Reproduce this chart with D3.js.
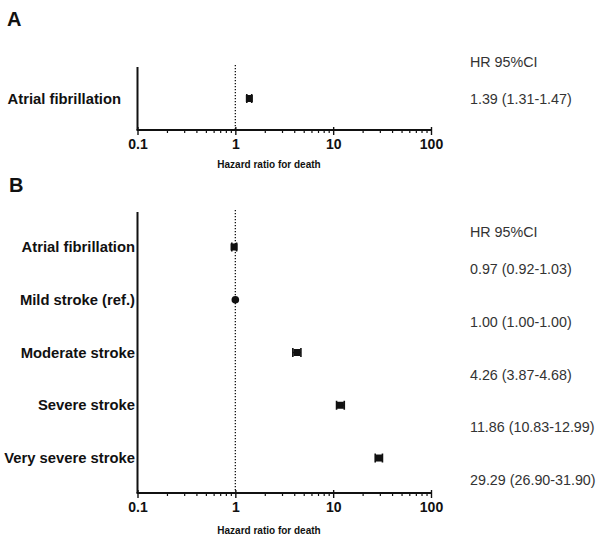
<!DOCTYPE html>
<html><head><meta charset="utf-8">
<script src="https://cdn.jsdelivr.net/npm/d3@7"></script>
<style>body{margin:0;background:#fff}svg{display:block}</style>
</head><body>
<script>
// Data
const panelACategories = ["Atrial fibrillation"];
const panelAHR = [1.39];
const panelALow = [1.31];
const panelAHigh = [1.47];
const panelALabels = ["1.39 (1.31-1.47)"];

const panelBCategories = ["Atrial fibrillation", "Mild stroke (ref.)", "Moderate stroke", "Severe stroke", "Very severe stroke"];
const panelBHR = [0.97, 1.00, 4.26, 11.86, 29.29];
const panelBLow = [0.92, 1.00, 3.87, 10.83, 26.90];
const panelBHigh = [1.03, 1.00, 4.68, 12.99, 31.90];
const panelBLabels = ["0.97 (0.92-1.03)", "1.00 (1.00-1.00)", "4.26 (3.87-4.68)", "11.86 (10.83-12.99)", "29.29 (26.90-31.90)"];
const markerShapes = ["square", "circle", "square", "square", "square"];

const xTicks = [0.1, 1, 10, 100];
const header = "HR 95%CI";
const xTitle = "Hazard ratio for death";

const W = 602, H = 540;
const svg = d3.select("body").append("svg").attr("width", W).attr("height", H);
const font = "'Liberation Sans', Arial, sans-serif";

const x = d3.scaleLog().domain([0.1, 100]).range([137.5, 431]);

function panel(opts) {
  const g = svg.append("g");
  const y = d3.scalePoint().domain(opts.cats).range([opts.top, opts.bottom]).padding(opts.pad);
  g.append("text").attr("x", opts.letterX).attr("y", opts.letterY).text(opts.letter)
    .attr("font-family", font).attr("font-weight", "bold").attr("font-size", 20).attr("fill", "#111");
  g.append("line").attr("x1", x(1)).attr("x2", x(1)).attr("y1", opts.top - 2).attr("y2", opts.bottom)
    .attr("stroke", "#111").attr("stroke-width", 1.3).attr("stroke-dasharray", "1.3,1.7");
  g.append("line").attr("x1", x(0.1)).attr("x2", x(0.1)).attr("y1", opts.top).attr("y2", opts.bottom)
    .attr("stroke", "#111").attr("stroke-width", 2);
  const minor = [];
  [0.1, 1, 10].forEach(d => { for (let k = 2; k <= 9; k++) minor.push(d * k); });
  const ax = g.append("g").attr("transform", `translate(0,${opts.bottom})`);
  ax.call(d3.axisBottom(x).tickValues(minor).tickSize(3).tickFormat(""));
  ax.select(".domain").remove();
  ax.selectAll(".tick line").attr("stroke", "#111").attr("stroke-width", 1.2);
  const axM = g.append("g").attr("transform", `translate(0,${opts.bottom})`);
  axM.call(d3.axisBottom(x).tickValues(xTicks).tickSize(5).tickPadding(4).tickFormat(d => d3.format("~g")(d)));
  axM.select(".domain").attr("stroke", "#111").attr("stroke-width", 2).attr("d", `M${x(0.1)-1},0H${x(100)+1}`);
  axM.selectAll(".tick line").attr("stroke", "#111").attr("stroke-width", 1.4).attr("y1", -3);
  axM.selectAll(".tick text").attr("font-family", font).attr("font-weight", "bold").attr("font-size", 14).attr("fill", "#111");
  g.append("text").attr("x", 269).attr("y", opts.bottom + opts.titleDy).attr("text-anchor", "middle")
    .text(xTitle).attr("font-family", font).attr("font-weight", "bold").attr("font-size", 10).attr("fill", "#111");
  g.selectAll("text.cat").data(opts.cats).join("text").attr("class", "cat")
    .attr("x", opts.labelX).attr("y", d => y(d)).attr("dy", "0.35em").attr("text-anchor", "end")
    .text(d => d).attr("font-family", font).attr("font-weight", "bold").attr("font-size", 14.8).attr("fill", "#111");
  opts.cats.forEach((c, i) => {
    const yy = y(c);
    const lo = opts.low[i], hi = opts.high[i], hr = opts.hr[i];
    if (opts.shapes[i] === "circle") {
      g.append("circle").attr("cx", x(hr)).attr("cy", yy).attr("r", 3.8).attr("fill", "#111");
      return;
    }
    g.append("line").attr("x1", x(lo)).attr("x2", x(hi)).attr("y1", yy).attr("y2", yy).attr("stroke", "#111").attr("stroke-width", 1.5);
    [lo, hi].forEach(v => g.append("line").attr("x1", x(v)).attr("x2", x(v)).attr("y1", yy - 4.5).attr("y2", yy + 4.5)
      .attr("stroke", "#111").attr("stroke-width", 1.6));
    g.append("rect").attr("x", x(hr) - 3.5).attr("y", yy - 3.5).attr("width", 7).attr("height", 7).attr("fill", "#111");
  });
  g.append("text").attr("x", 470).attr("y", opts.headerY).attr("dy", "0.35em").text(header)
    .attr("font-family", font).attr("font-size", 14.3).attr("fill", "#333");
  g.selectAll("text.val").data(opts.vals).join("text").attr("class", "val")
    .attr("x", 470).attr("y", (d, i) => y(opts.cats[i]) + opts.valDy).attr("dy", "0.35em")
    .text(d => d).attr("font-family", font).attr("font-size", 14.3).attr("fill", "#333");
}

panel({cats: panelACategories, hr: panelAHR, low: panelALow, high: panelAHigh, vals: panelALabels,
  shapes: ["square"], top: 67, bottom: 130, pad: 0.5, letter: "A", letterX: 7, letterY: 26,
  labelX: 121, headerY: 62, valDy: 0, titleDy: 38});
panel({cats: panelBCategories, hr: panelBHR, low: panelBLow, high: panelBHigh, vals: panelBLabels,
  shapes: markerShapes, top: 212, bottom: 493, pad: 0.663, letter: "B", letterX: 9, letterY: 192,
  labelX: 135, headerY: 232, valDy: 22, titleDy: 41});
</script>
</body></html>
